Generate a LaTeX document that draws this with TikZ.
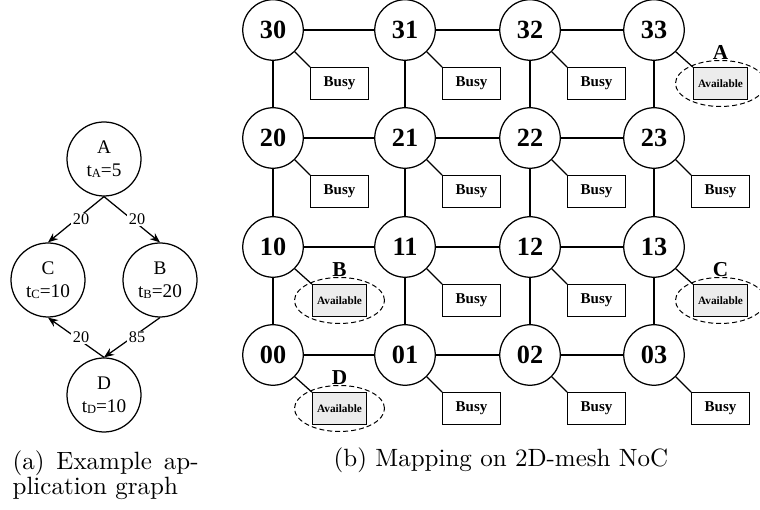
\documentclass[tikz,border=0pt]{standalone}
\usepackage{fontspec}
\newfontfamily\timesfont{Liberation Serif}
\usetikzlibrary{arrows.meta}

% small lowered index for the task times
\newcommand\tsub[1]{\raisebox{-0.6pt}{\fontsize{5}{5}\selectfont #1}}

\begin{document}
\begin{tikzpicture}[
  x=0.4pt, y=-0.4pt,
  every path/.append style={line width=0.5pt},
  task/.style={circle, draw, minimum size=29.6pt, inner sep=0pt, align=center,
    font=\timesfont\fontsize{7.7}{9.2}\selectfont},
  vol/.style={fill=white, inner sep=0.6pt, xshift=2pt,
    font=\timesfont\fontsize{6.5}{7}\selectfont},
  flow/.style={-{Stealth[length=4pt,width=3.2pt]}},
  router/.style={circle, draw, minimum size=24.2pt, inner sep=0pt,
    font=\timesfont\bfseries\fontsize{10.5}{12}\selectfont},
  busy/.style={draw, minimum width=23pt, minimum height=12.6pt, inner sep=0pt,
    font=\timesfont\bfseries\fontsize{6}{7}\selectfont},
  free/.style={draw, fill=gray!15, minimum width=21.6pt, minimum height=12.6pt,
    inner sep=0pt, font=\timesfont\bfseries\fontsize{4.5}{5}\selectfont},
  ring/.style={dashed, dash pattern=on 2pt off 1.2pt, line width=0.4pt},
  mapped/.style={font=\timesfont\bfseries\fontsize{8.5}{9}\selectfont}
  ]
  \useasboundingbox (0,0) rectangle (760,510);

  % application graph
  \node[task] (tA) at (104,159) {A\\t\tsub{A}=5};
  \node[task] (tC) at (48,280) {C\\t\tsub{C}=10};
  \node[task] (tB) at (160,280) {B\\t\tsub{B}=20};
  \node[task] (tD) at (104,395) {D\\t\tsub{D}=10};
  \draw[flow] (tA.south) -- node[vol] (wAC) {20} (tC.north);
  \draw[flow] (tA.south) -- node[vol] (wAB) {20} (tB.north);
  \draw[flow] (tD.north) -- node[vol] (wDC) {20} (tC.south);
  \draw[flow] (tB.south) -- node[vol] (wBD) {85} (tD.north);

  % 4x4 mesh of routers
  \foreach \c/\x in {0/273,1/405,2/530,3/654} {
    \foreach \r/\y in {0/355,1/247,2/138,3/30} {
      \node[router] (r\r\c) at (\x,\y) {\r\c};
    }
  }
  \foreach \r in {0,...,3} {
    \foreach \c/\n in {0/1,1/2,2/3} {
      \draw (r\r\c) -- (r\r\n);
      \draw (r\c\r) -- (r\n\r);
    }
  }

  % processing elements
  \foreach \id in {30,31,32,20,21,22,23,11,12,01,02,03} {
    \node[busy] (pe\id) at ([shift={(66.5,53.5)}]r\id.center) {Busy};
    \draw (r\id.-45) -- (pe\id.north west);
  }
  \foreach \id/\t in {33/A,10/B,13/C,00/D} {
    \node[free] (pe\id) at ([shift={(66.5,53.5)}]r\id.center) {Available};
    \draw (r\id.-45) -- (pe\id.north west);
    \draw[ring] (pe\id.center) ellipse [x radius=18pt, y radius=9.2pt];
    \node[mapped] (m\t) at ([shift={(0,-31)}]pe\id.center) {\t};
  }

  % captions
  \node[anchor=base west, inner sep=0pt] (capa) at (12,470)
    {\hbox to 74.4pt{(a)\hfill Example\hfill ap-}};
  \node[anchor=base west, inner sep=0pt] (capa2) at (12,495) {plication graph};
  \node[anchor=base, inner sep=0pt] (capb) at (501,467) {(b) Mapping on 2D-mesh NoC};
\end{tikzpicture}
\end{document}
